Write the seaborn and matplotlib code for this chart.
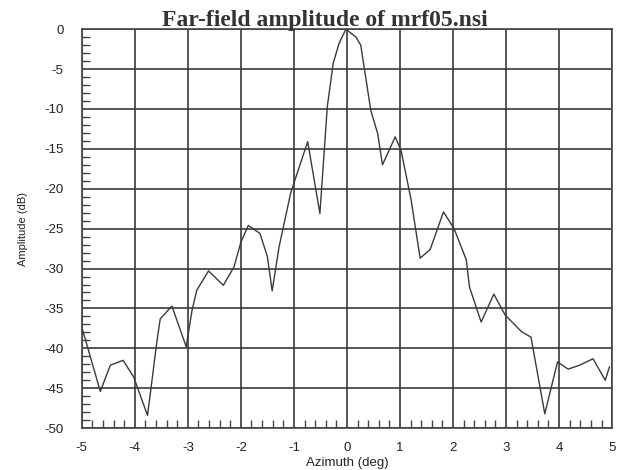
import matplotlib
matplotlib.use("Agg")
import matplotlib.pyplot as plt
import seaborn as sns
import pandas as pd
from matplotlib.ticker import MultipleLocator

azimuth = [-5.00, -4.65, -4.46, -4.22, -4.02, -3.76, -3.58, -3.52, -3.30, -3.03,
           -2.92, -2.83, -2.61, -2.33, -2.13, -2.00, -1.86, -1.64, -1.50, -1.41,
           -1.28, -1.06, -0.74, -0.51, -0.37, -0.26, -0.15, -0.02, 0.17, 0.26,
           0.45, 0.58, 0.67, 0.91, 1.02, 1.21, 1.38, 1.57, 1.82, 2.02,
           2.25, 2.31, 2.53, 2.77, 2.98, 3.29, 3.47, 3.73, 3.97, 4.17,
           4.39, 4.64, 4.87, 4.95]
amplitude = [-37.3, -45.4, -42.1, -41.5, -43.6, -48.4, -39.0, -36.3, -34.7, -39.8,
             -35.2, -32.7, -30.3, -32.1, -29.8, -26.7, -24.6, -25.6, -28.5, -32.8,
             -27.3, -20.5, -14.1, -23.1, -9.7, -4.3, -1.8, 0.0, -1.0, -2.0,
             -10.2, -13.1, -17.0, -13.5, -15.2, -21.4, -28.7, -27.6, -22.9, -25.0,
             -28.9, -32.3, -36.7, -33.2, -35.8, -37.9, -38.6, -48.2, -41.7, -42.6,
             -42.1, -41.3, -44.0, -42.3]

x_ticks = [-5, -4, -3, -2, -1, 0, 1, 2, 3, 4, 5]
y_ticks = [0, -5, -10, -15, -20, -25, -30, -35, -40, -45, -50]

df = pd.DataFrame({"Azimuth": azimuth, "Amplitude": amplitude})

sns.set_theme(style="white")
plt.rcParams["font.family"] = ["Liberation Sans", "DejaVu Sans"]
plt.rcParams["axes.unicode_minus"] = False

fig = plt.figure(figsize=(6.24, 4.70), dpi=100)
ax = fig.add_axes([0.131, 0.089, 0.850, 0.849])

sns.lineplot(data=df, x="Azimuth", y="Amplitude", ax=ax, color="#3a3a3a",
             linewidth=1.0, sort=False, zorder=3)

ax.set_xlim(-5, 5)
ax.set_ylim(-50, 0)
ax.set_xticks(x_ticks)
ax.set_yticks(y_ticks)
ax.set_xticklabels([str(t) for t in x_ticks], fontsize=9.5, color="#222222")
ax.set_yticklabels([str(t) for t in y_ticks], fontsize=9.5, color="#222222")
ax.xaxis.set_minor_locator(MultipleLocator(0.2))
ax.yaxis.set_minor_locator(MultipleLocator(1))
ax.tick_params(axis="both", which="major", length=4, width=1.2, color="#333333",
               direction="out")
ax.tick_params(axis="x", which="major", pad=6)
ax.tick_params(axis="y", which="major", pad=9)
ax.tick_params(axis="x", which="minor", length=6, width=1.0, color="#444444",
               direction="in", bottom=True)
ax.tick_params(axis="y", which="minor", length=6, width=1.0, color="#444444",
               direction="in", left=True)
ax.grid(True, which="major", color="#3a3a3a", linewidth=1.2)
for s in ax.spines.values():
    s.set_color("#444444")
    s.set_linewidth(1.2)

ax.set_xlabel("Azimuth (deg)", fontsize=9.5, color="#222222", labelpad=2)
ax.set_ylabel("Amplitude (dB)", fontsize=8, color="#222222", labelpad=12)
ax.set_title("Far-field amplitude of mrf05.nsi", fontsize=17, x=0.458,
             family="Liberation Serif", fontweight="bold", color="#333333", pad=2)

fig.savefig("out.png", dpi=100)
